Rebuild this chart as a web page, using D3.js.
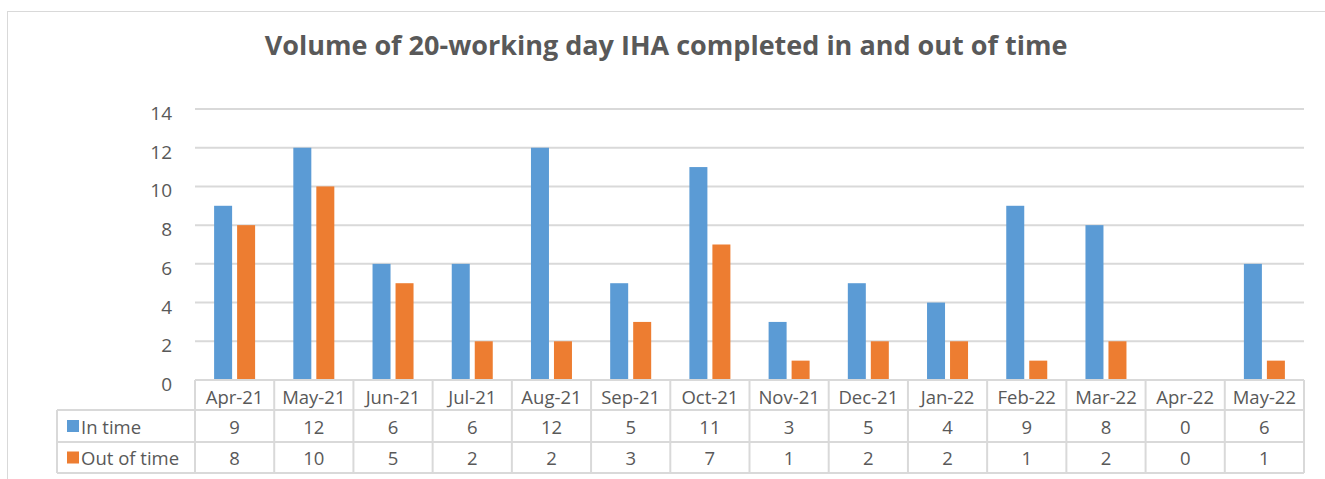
<!DOCTYPE html>
<html>
<head>
<meta charset="utf-8">
<script src="https://cdn.jsdelivr.net/npm/d3@7"></script>
<style>
  body { margin: 0; background: #fff; }
  svg text { font-family: "Open Sans", "Liberation Sans", sans-serif; }
</style>
</head>
<body>
<div id="chart"></div>
<script>
const months = ['Apr-21', 'May-21', 'Jun-21', 'Jul-21', 'Aug-21', 'Sep-21', 'Oct-21',
    'Nov-21', 'Dec-21', 'Jan-22', 'Feb-22', 'Mar-22', 'Apr-22', 'May-22'];
const inTime = [9, 12, 6, 6, 12, 5, 11, 3, 5, 4, 9, 8, 0, 6];
const outOfTime = [8, 10, 5, 2, 2, 3, 7, 1, 2, 2, 1, 2, 0, 1];
const seriesNames = ['In time', 'Out of time'];
const yTicks = [0, 2, 4, 6, 8, 10, 12, 14];

const width = 1325;
const height = 479;
const colors = ['#5B9BD5', '#ED7D31'];
const textColor = '#595959';
const lineColor = '#D9D9D9';

const svg = d3.select('#chart').append('svg')
    .attr('width', width)
    .attr('height', height);

// Chart frame
svg.append('rect')
    .attr('x', 7.5).attr('y', 11.5)
    .attr('width', width + 10).attr('height', height + 10)
    .attr('fill', '#fff')
    .attr('stroke', lineColor);

// Title
svg.append('text')
    .attr('x', 666)
    .attr('y', 55)
    .attr('text-anchor', 'middle')
    .style('font-size', '27px')
    .style('font-weight', 'bold')
    .style('fill', textColor)
    .text('Volume of 20-working day IHA completed in and out of time');

const plot = { left: 195, right: 1304, top: 109, bottom: 380 };

const x = d3.scaleBand()
    .domain(months)
    .range([plot.left, plot.right]);

const y = d3.scaleLinear()
    .domain([0, 14])
    .range([plot.bottom, plot.top]);

// Gridlines
svg.append('g')
    .selectAll('line')
    .data(yTicks)
    .join('line')
    .attr('x1', plot.left)
    .attr('x2', plot.right)
    .attr('y1', d => y(d))
    .attr('y2', d => y(d))
    .attr('stroke', lineColor)
    .attr('stroke-width', 2);

// Y tick labels
svg.append('g')
    .selectAll('text')
    .data(yTicks)
    .join('text')
    .attr('x', 172)
    .attr('y', d => y(d) + 4)
    .attr('text-anchor', 'end')
    .attr('dominant-baseline', 'central')
    .style('font-size', '19px')
    .style('fill', textColor)
    .text(d => d);

// Bars
const barW = 18;
const gap = 5;
const series = [inTime, outOfTime];
series.forEach((vals, s) => {
    svg.append('g')
        .selectAll('rect')
        .data(vals)
        .join('rect')
        .attr('x', (d, i) => x(months[i]) + x.bandwidth() / 2 - (barW * 2 + gap) / 2 + s * (barW + gap))
        .attr('y', d => y(d))
        .attr('width', barW)
        .attr('height', d => y(0) - y(d))
        .attr('fill', colors[s]);
});

// Data table
const rowH = [30, 32, 31];
const rowY = [plot.bottom, plot.bottom + rowH[0], plot.bottom + rowH[0] + rowH[1]];
const tableBottom = rowY[2] + rowH[2];
const legendLeft = 57;
const table = svg.append('g')
    .attr('stroke', lineColor)
    .attr('stroke-width', 2)
    .attr('fill', 'none');

// horizontal lines
table.append('line')
    .attr('x1', plot.left).attr('x2', plot.right)
    .attr('y1', rowY[0]).attr('y2', rowY[0]);
[rowY[1], rowY[2], tableBottom].forEach(yy => {
    table.append('line')
        .attr('x1', legendLeft).attr('x2', plot.right)
        .attr('y1', yy).attr('y2', yy);
});
// vertical lines
table.append('line')
    .attr('x1', legendLeft).attr('x2', legendLeft)
    .attr('y1', rowY[1]).attr('y2', tableBottom);
months.concat(['end']).forEach(m => {
    const xx = m === 'end' ? plot.right : x(m);
    table.append('line')
        .attr('x1', xx).attr('x2', xx)
        .attr('y1', rowY[0]).attr('y2', tableBottom);
});

// category labels
svg.append('g')
    .selectAll('text')
    .data(months)
    .join('text')
    .attr('x', d => x(d) + x.bandwidth() / 2)
    .attr('y', rowY[0] + rowH[0] / 2 + 1)
    .attr('text-anchor', 'middle')
    .attr('dominant-baseline', 'central')
    .style('font-size', '18.5px')
    .style('fill', textColor)
    .text(d => d);

// series rows
series.forEach((vals, s) => {
    const cy = rowY[s + 1] + rowH[s + 1] / 2;
    svg.append('rect')
        .attr('x', 67)
        .attr('y', cy - 6)
        .attr('width', 12)
        .attr('height', 12)
        .attr('fill', colors[s]);
    svg.append('text')
        .attr('x', 81)
        .attr('y', cy)
        .attr('dominant-baseline', 'central')
        .style('font-size', '18.5px')
        .style('fill', textColor)
        .text(seriesNames[s]);
    svg.append('g')
        .selectAll('text')
        .data(vals)
        .join('text')
        .attr('x', (d, i) => x(months[i]) + x.bandwidth() / 2)
        .attr('y', cy)
        .attr('text-anchor', 'middle')
        .attr('dominant-baseline', 'central')
        .style('font-size', '18.5px')
        .style('fill', textColor)
        .text(d => d);
});
</script>
</body>
</html>
